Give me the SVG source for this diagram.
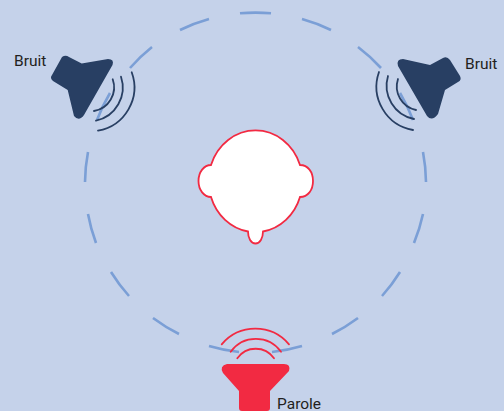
<svg xmlns="http://www.w3.org/2000/svg" width="504" height="411" viewBox="0 0 504 411">
<style>
.ring{fill:none;stroke:#7b9fd6;stroke-width:2.6}
.wd{fill:none;stroke:#283f63;stroke-width:1.8;stroke-linecap:round}
.wr{fill:none;stroke:#f22a42;stroke-width:1.8;stroke-linecap:round}
.lb{font-family:Roboto,"Liberation Sans",sans-serif;font-size:15.500px;fill:#231f20}
</style>
<rect width="504" height="411" fill="#c5d2ea"/>
<g id="connectors">
<path class="ring" d="M240 13.300A170 170 0 0 1 271 13.300M302 19A170 170 0 0 1 331 30M358 47A170 170 0 0 1 381 68M400 93A170 170 0 0 1 413 120M423 152A170 170 0 0 1 426 182M423 214A170 170 0 0 1 414 243M400 272A170 170 0 0 1 382 296M358 318A170 170 0 0 1 332 334M302 346A170 170 0 0 1 272 352M239 352A170 170 0 0 1 209 346M179 334A170 170 0 0 1 153 318M129 296A170 170 0 0 1 111 272M96 243A170 170 0 0 1 88 214M85 182A170 170 0 0 1 88 152M97 120A170 170 0 0 1 110 93M130 68A170 170 0 0 1 152 47M180 30A170 170 0 0 1 209 19"/>
</g>
<g id="head">
<path fill="#fff" stroke="#f22a42" stroke-width="1.800" d="M211 165A47 51 0 0 1 300 165C308 165 313 172 313 181C313 190 308 197 300 197A47 51 0 0 1 263 231.500C263 238 260 243.500 255.500 243.500C251 243.500 248 238 248 231.500A47 51 0 0 1 211 197C204 197 198.500 190 198.500 181C198.500 172 204 165 211 165Z"/>
</g>
<g id="bruit-left">
<path fill="#283f63" d="M62 57Q65.500 54.500 69 57L81.700 63.500L108 59Q114.500 59 112.500 65L84 115Q79 122 74 116L67.700 90L53 81Q49.500 78 52 75Z"/>
<path class="wd" d="M112.700 79.300A24 24 0 0 1 94 111M121 76.700A34 34 0 0 1 96 120.700M131.700 72.300A44 44 0 0 1 98 130.700"/>
<text class="lb" x="14" y="66">Bruit</text>
</g>
<g id="bruit-right">
<path fill="#283f63" d="M398 66Q396 59 403 59L430 65L443 58Q447 56 450 60L460 76Q462 80 458 82L445 90L438 114Q432 122 427 116Z"/>
<path class="wd" d="M398 79A24 24 0 0 0 416 110M388 76A34 34 0 0 0 414 119M379 72A44 44 0 0 0 413 130"/>
<text class="lb" x="465" y="69">Bruit</text>
</g>
<g id="parole">
<path fill="#f22a42" d="M227 364H284Q291 364 289 371L270 391V408Q270 411 267 411H242Q239 411 239 408V391L223 373Q219 366 227 364Z"/>
<path class="wr" d="M221.700 344.300A44 44 0 0 1 289 344.300M230.700 351.700A31 31 0 0 1 281 351.700M237.300 358.300A22.400 22.400 0 0 1 274 358.300"/>
<text class="lb" x="277" y="409">Parole</text>
</g>
</svg>
